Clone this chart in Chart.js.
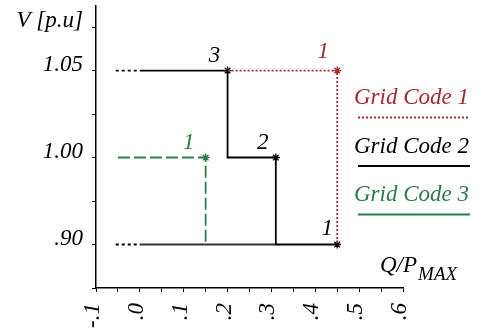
<!DOCTYPE html>
<html>
<head>
    <title>Grid Code Q/V</title>
    <script src="https://cdn.jsdelivr.net/npm/chart.js"></script>
    <style>
        html, body { margin: 0; padding: 0; background: #fff; }
        #chart-container { width: 482px; height: 333px; position: relative; }
    </style>
</head>
<body>
<div id="chart-container">
    <canvas id="qvChart"></canvas>
</div>

<script>
    // voltage levels shown on the y axis, bottom to top (null = unlabeled tick)
    const vTicks = [null, 0.90, null, 1.00, null, 1.05];
    const vTickLabels = ['', '.90', '', '1.00', '', '1.05', 'V [p.u]'];
    const xTickLabels = ['-.1', '.0', '.1', '.2', '.3', '.4', '.5', '.6'];

    // Grid Code 1 (red dotted)
    const gc1Q = [0.20, 0.45, 0.45];
    const gc1V = [1.05, 1.05, 0.90];
    // Grid Code 2 (black)
    const gc2Q = [0.00, 0.20, 0.20, 0.31, 0.31, 0.45];
    const gc2V = [1.05, 1.05, 1.00, 1.00, 0.90, 0.90];
    const gc2ExtQ = [-0.055, 0.00, null, -0.055, 0.00];
    const gc2ExtV = [1.05, 1.05, null, 0.90, 0.90];
    const baseQ = [0.00, 0.31];
    const baseV = [0.90, 0.90];
    // Grid Code 3 (green dashed)
    const gc3Q = [-0.05, 0.15, 0.15];
    const gc3V = [1.00, 1.00, 0.90];

    // point numbers
    const noteQ = [0.20, 0.31, 0.45, 0.45, 0.15];
    const noteV = [1.05, 1.00, 0.90, 1.05, 1.00];
    const noteText = ['3', '2', '1', '1', '1'];

    const legendNames = ['Grid Code 1', 'Grid Code 2', 'Grid Code 3'];

    const RED = '#a8272d';
    const GREEN = '#2e7a47';
    const FONT = "'Liberation Serif', serif";

    function lvl(v) {
        return v === null ? null : vTicks.indexOf(v);
    }
    function pts(qs, vs) {
        return qs.map((q, i) => q === null ? { x: null, y: null } : { x: q, y: lvl(vs[i]) });
    }

    const noteColors = ['#000', '#000', '#000', RED, GREEN];
    const noteShift = [[-13, -15], [-13, -15], [-10, -16], [-14, -19], [-17, -15]];

    const notesPlugin = {
        id: 'notes',
        afterDatasetsDraw(chart) {
            const ctx = chart.ctx;
            const xs = chart.scales.x, ys = chart.scales.y;
            ctx.save();
            ctx.font = 'italic 23px ' + FONT;
            ctx.textAlign = 'center';
            ctx.textBaseline = 'middle';
            noteQ.forEach((q, i) => {
                const px = xs.getPixelForValue(q);
                const py = ys.getPixelForValue(lvl(noteV[i]));
                ctx.fillStyle = noteColors[i];
                ctx.fillText(noteText[i], px + noteShift[i][0], py + noteShift[i][1]);
            });

            // x axis title with subscript
            ctx.fillStyle = '#000';
            ctx.textAlign = 'left';
            ctx.textBaseline = 'alphabetic';
            ctx.font = 'italic 23px ' + FONT;
            ctx.fillText('Q/P', 380, 272);
            const w = ctx.measureText('Q/P').width;
            ctx.font = 'italic 19px ' + FONT;
            ctx.fillText('MAX', 381 + w, 280);

            // legend
            const colors = [RED, '#000', GREEN];
            const dashes = [[2, 2], [], []];
            legendNames.forEach((name, i) => {
                const ty = 104 + i * 48.5;
                ctx.font = 'italic 23px ' + FONT;
                ctx.fillStyle = colors[i];
                ctx.fillText(name, 354, ty);
                ctx.strokeStyle = colors[i];
                ctx.lineWidth = i === 0 ? 1.8 : 2;
                ctx.setLineDash(dashes[i]);
                ctx.beginPath();
                ctx.moveTo(358, ty + 13.5);
                ctx.lineTo(470, ty + 13.5);
                ctx.stroke();
            });
            ctx.restore();
        }
    };

    const line = (data, color, width, dash, radius) => ({
        data: data,
        borderColor: color,
        backgroundColor: color,
        borderWidth: width,
        borderDash: dash,
        pointStyle: 'star',
        pointRadius: radius,
        pointBorderColor: color,
        pointBorderWidth: 1.3,
        fill: false,
        tension: 0,
        spanGaps: false
    });

    new Chart(document.getElementById('qvChart'), {
        type: 'line',
        data: {
            datasets: [
                line(pts(baseQ, baseV), '#333', 1.8, [], 0),
                line(pts(gc2ExtQ, gc2ExtV), '#000', 1.8, [3, 3], 0),
                line(pts(gc3Q, gc3V), GREEN, 1.8, [12, 4], [0, 4, 0]),
                line(pts(gc1Q, gc1V), RED, 1.8, [2, 2], [0, 4, 0]),
                line(pts(gc2Q, gc2V), '#000', 1.8, [], [0, 4, 0, 4, 0, 4])
            ]
        },
        options: {
            responsive: true,
            maintainAspectRatio: false,
            animation: false,
            layout: { padding: { left: 0, right: 79, top: 3, bottom: 0 } },
            plugins: {
                legend: { display: false },
                tooltip: { enabled: false }
            },
            scales: {
                x: {
                    type: 'linear',
                    min: -0.1,
                    max: 0.6,
                    afterFit(scale) {
                        scale.height = 45;
                        scale.paddingLeft = 0;
                        scale.paddingRight = 0;
                    },
                    grid: { drawOnChartArea: false, drawTicks: true, tickLength: 4, color: '#000' },
                    border: { display: true, color: '#000', width: 1.5 },
                    ticks: {
                        stepSize: 0.05,
                        autoSkip: false,
                        minRotation: 90,
                        maxRotation: 90,
                        padding: 11,
                        labelOffset: -3,
                        color: '#000',
                        font: { family: FONT, size: 23, style: 'italic' },
                        callback(v) {
                            const i = Math.round((v + 0.1) * 20);
                            return i % 2 === 0 ? xTickLabels[i / 2] : '';
                        }
                    }
                },
                y: {
                    type: 'linear',
                    min: 0,
                    max: 6.5,
                    afterFit(scale) {
                        scale.width = 96;
                        scale.paddingTop = 0;
                        scale.paddingBottom = 0;
                    },
                    afterBuildTicks(scale) {
                        scale.ticks = vTickLabels.map((_, i) => ({ value: i }));
                    },
                    grid: { drawOnChartArea: false, drawTicks: true, tickLength: 4, color: '#000' },
                    border: { display: true, color: '#000', width: 1.5 },
                    ticks: {
                        padding: 9,
                        labelOffset: -6,
                        color: '#000',
                        font: { family: FONT, size: 23, style: 'italic' },
                        callback(v) { return vTickLabels[v]; }
                    }
                }
            }
        },
        plugins: [notesPlugin]
    });
</script>
</body>
</html>
